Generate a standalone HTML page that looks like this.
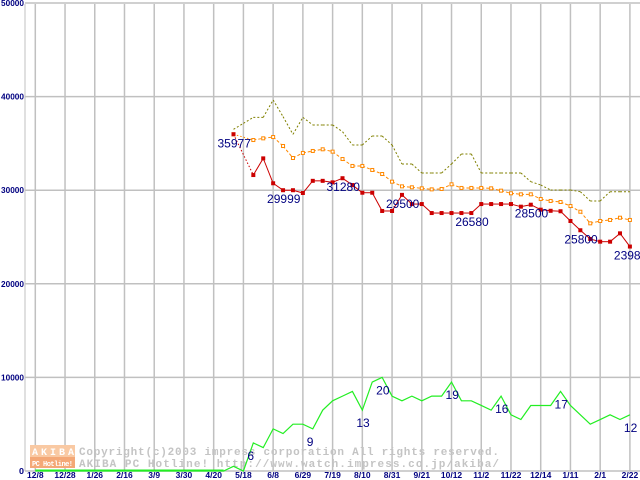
<!DOCTYPE html>
<html><head><meta charset="utf-8"><style>
body{margin:0;background:#fff;width:640px;height:480px;overflow:hidden}
svg{display:block}
</style></head><body>
<svg id="chart" width="640" height="480" xmlns="http://www.w3.org/2000/svg" font-family="Liberation Sans, sans-serif"></svg>
<script>
const xLabels=["12/8","12/28","1/26","2/16","3/9","3/30","4/20","5/18","6/8","6/29","7/19","8/10","8/31","9/21","10/12","11/2","11/22","12/14","1/11","2/1","2/22"];
const yTicks=[0,10000,20000,30000,40000,50000];
const startIdx=20;
const redVals=[35977,null,31620,33400,30740,29999,29999,29700,31000,31000,30840,31280,30550,29730,29730,27780,27780,29500,28520,28520,27560,27560,27560,27560,27560,28520,28520,28520,28520,28240,28450,27920,27800,27750,26710,25720,24790,24500,24500,25390,23980];
const orangeVals=[35970,null,35360,35540,35680,34720,33440,33980,34190,34370,34120,33330,32590,32590,32160,31730,30910,30410,30310,30200,30090,30130,30630,30240,30240,30240,30200,29950,29670,29560,29560,29060,28850,28740,28310,27700,26460,26710,26820,27060,26820];
const oliveVals=[36500,37140,37780,37780,39640,37860,35970,37780,36970,36970,36970,36250,34830,34830,35790,35790,34830,32800,32800,31840,31840,31840,32800,33870,33870,31840,31840,31840,31840,31840,30910,30560,30020,30020,30020,29840,28850,28850,29840,29840,29840];
const greenCounts=[0,0,0,0,0,0,0,0,0,0,0,0,0,0,0,0,0,0,0,0,1,0,6,5,9,8,10,10,9,13,15,16,17,13,19,20,16,15,16,15,16,16,19,15,15,14,13,16,12,11,14,14,14,17,14,12,10,11,12,11,12];
const redLabels=[[0,"35977"],[5,"29999"],[11,"31280"],[17,"29500"],[24,"26580"],[30,"28500"],[35,"25800"],[40,"23980"]];
const greenLabels=[[22,"6"],[28,"9"],[33,"13"],[35,"20"],[42,"19"],[47,"16"],[53,"17"],[60,"12"]];
const countScale=500;

const svg=document.getElementById('chart');
const NS="http://www.w3.org/2000/svg";
const X0=35.3,DX=29.73/3,Y0=471,YS=93.6/10000;
const xs=i=>X0+DX*i;
const ys=v=>Y0-v*YS;
function el(t,a){const e=document.createElementNS(NS,t);for(const k in a)e.setAttribute(k,a[k]);svg.appendChild(e);return e;}

el('line',{x1:25,y1:4,x2:25,y2:471,stroke:'#c0c0c0','stroke-width':1});
yTicks.forEach(v=>{
  const g=el('line',{x1:25,y1:ys(v),x2:640,y2:ys(v),stroke:'#c0c0c0','stroke-width':1.5});
  
  
  const t=el('text',{x:24,y:ys(v)+3,'text-anchor':'end','font-size':8.5,'font-weight':'bold',fill:'#000080','textLength':v?23:5,'lengthAdjust':'spacingAndGlyphs'});
  t.textContent=v;
  
  
});
xLabels.forEach((l,j)=>{
  const x=xs(j*3);
  const g=el('line',{x1:x,y1:4,x2:x,y2:471,stroke:'#c0c0c0','stroke-width':1.5});
  
  
  const t=el('text',{x:x,y:478,'text-anchor':'middle','font-size':8.5,'font-weight':'bold',fill:'#000080'});
  t.textContent=l;
  
  
});

const wm=el('rect',{x:30,y:445,width:45,height:12,fill:'#f9c9a3'});


const wm2=el('rect',{x:30,y:457,width:45,height:11,fill:'#f4a877'});


[[32,455,'AKIBA',10,'#fff',42],[32,466,'PC Hotline!',7,'#fff',41],[79,455,'Copyright(c)2003 impress corporation All rights reserved.',11,'#c4c4c4',420],[79,467,'AKIBA PC Hotline!  http://www.watch.impress.co.jp/akiba/',11,'#c4c4c4',420]].forEach(a=>{
  const t=el('text',{x:a[0],y:a[1],'font-size':a[3],'font-weight':'bold',fill:a[4],'font-family':'Liberation Mono, monospace','textLength':a[5],'lengthAdjust':'spacing'});
  t.textContent=a[2];
  
  
});

function series(vals,color,dash,name,offset){
  let prev=null;
  vals.forEach((v,i)=>{
    if(v===null)return;
    const x=xs(i+offset),y=ys(v);
    if(prev){
      const gap=i-prev.i>1;
      const l=el('line',{x1:prev.x,y1:prev.y,x2:x,y2:y,stroke:color,'stroke-width':1});
      if(dash||gap)l.setAttribute('stroke-dasharray',gap?'1.5,2':dash);
      
      
    }
    prev={i,x,y};
  });
}
series(oliveVals,'#808000','2,2','olive-line',startIdx);
series(orangeVals,'#ff8800','3,2','orange-line',startIdx);
orangeVals.forEach((v,i)=>{if(v===null)return;
  const r=el('rect',{x:xs(i+startIdx)-1.5,y:ys(v)-1.5,width:3,height:3,fill:'#fff',stroke:'#ff8800','stroke-width':1});
  
  
});
series(redVals,'#cc0000','','red-line',startIdx);
redVals.forEach((v,i)=>{if(v===null)return;
  const r=el('rect',{x:xs(i+startIdx)-2,y:ys(v)-2,width:4,height:4,fill:'#cc0000'});
  
  
});
const gp=greenCounts.map((c,i)=>xs(i)+','+ys(c*countScale)).join(' ');
const gl=el('polyline',{points:gp,fill:'none',stroke:'#22ee22','stroke-width':1.2});


const gz=el('line',{x1:xs(0),y1:ys(0)-0.5,x2:xs(startIdx-1),y2:ys(0)-0.5,stroke:'#22ee22','stroke-width':2});



redLabels.forEach(([k,t])=>{
  const v=redVals[k];
  const tx=el('text',{x:xs(k+startIdx)-16,y:ys(v)+13,'font-size':12,fill:'#000080'});
  tx.textContent=t;
  
  
});
greenLabels.forEach(([k,t])=>{
  const v=greenCounts[k]*countScale;
  const tx=el('text',{x:xs(k)-6,y:ys(v)+17,'font-size':12,fill:'#000080'});
  tx.textContent=t;
  
  
});
</script>
</body></html>
